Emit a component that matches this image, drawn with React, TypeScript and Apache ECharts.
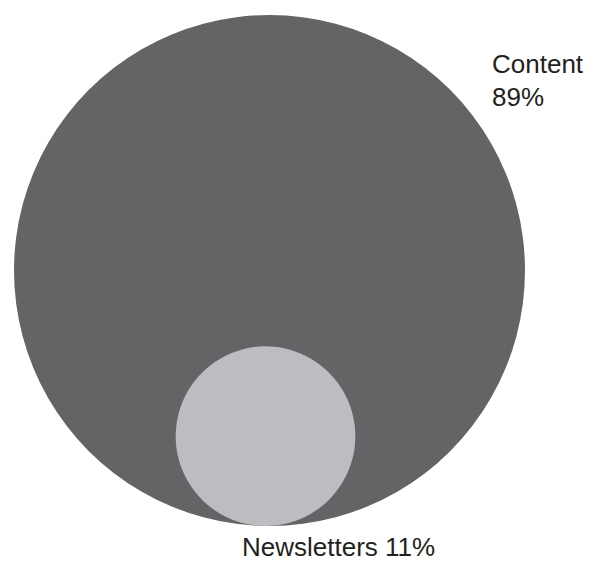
import React, { useEffect, useRef } from "react";
import * as echarts from "echarts";

const categories = ["Content", "Newsletters"];
const shares = [89, 11];
const colors = ["#636466", "#bcbdc0"];

const W = 599;
const H = 563;
const BIG_CX = 269.5;
const BIG_CY = 270.5;
const BIG_R = 255.5;
const SMALL_DX = -4;

export default function App() {
  const ref = useRef<HTMLDivElement>(null);
  useEffect(() => {
    if (!ref.current) return;
    const chart = echarts.init(ref.current, undefined, { renderer: "svg" });
    const maxV = Math.max(...shares);
    const k = BIG_R / Math.sqrt(maxV);
    const data = categories.map((name, i) => {
      const r = k * Math.sqrt(shares[i]);
      const isBig = shares[i] === maxV;
      const cx = isBig ? BIG_CX : BIG_CX + SMALL_DX;
      const cy = isBig ? BIG_CY : BIG_CY + BIG_R - r;
      return {
        name,
        value: [cx, cy, shares[i]],
        symbolSize: 2 * r,
        itemStyle: { color: colors[i], opacity: 1 },
        label: isBig
          ? {
              show: true,
              formatter: `${name}\n${shares[i]}%`,
              position: [492 - (cx - r), 47 - (cy - r)],
              align: "left",
              verticalAlign: "top",
            }
          : {
              show: true,
              formatter: `${name} ${shares[i]}%`,
              position: [242 - (cx - r), 530 - (cy - r)],
              align: "left",
              verticalAlign: "top",
            },
      };
    });
    chart.setOption({
      animation: false,
      grid: { left: 0, right: 0, top: 0, bottom: 0 },
      xAxis: { type: "value", min: 0, max: W, show: false },
      yAxis: { type: "value", min: 0, max: H, inverse: true, show: false },
      series: [
        {
          type: "scatter",
          silent: true,
          symbol: "circle",
          data,
          itemStyle: { opacity: 1 },
          label: {
            color: "#231f20",
            fontFamily: "Liberation Sans",
            fontSize: 26,
            lineHeight: 33,
          },
        },
      ],
    });
    return () => chart.dispose();
  }, []);
  return (
    <div
      ref={ref}
      style={{ position: "fixed", left: 0, top: 0, width: W, height: H, background: "#fff" }}
    />
  );
}
